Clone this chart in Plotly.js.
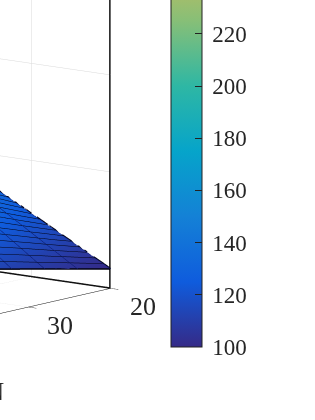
<!DOCTYPE html>
<html><head><meta charset="utf-8">
<script src="https://cdn.plot.ly/plotly-3.0.0.min.js"></script>
<style>html,body{margin:0;padding:0;width:315px;height:420px;overflow:hidden;background:#fff}
#c{position:absolute}</style></head><body><div id="c"></div>
<script>
const xVals=[20,21,22,23,24,25,26,27,28,29,30,31,32,33,34,35,36];
const yVals=[20,22,24,26,28,30,32,34,36];
const z0=[100,102.3,104.5,106.8,109,111.3,113.5,115.8,118,120.3,122.5,124.8,127,129.3,131.5,133.8,136];
const z1=[101.9,104.3,106.8,109.2,111.6,114,116.5,118.9,121.3,123.7,126.2,128.6,131,133.5,135.9,138.3,140.7];
const z2=[103.8,106.4,109,111.6,114.2,116.8,119.4,122,124.6,127.2,129.8,132.4,135,137.7,140.3,142.9,145.5];
const z3=[105.8,108.5,111.3,114.1,116.9,119.7,122.5,125.2,128,130.8,133.6,136.4,139.2,142,144.7,147.5,150.3];
const z4=[107.7,110.6,113.6,116.6,119.5,122.5,125.5,128.4,131.4,134.3,137.3,140.3,143.2,146.2,149.1,152.1,155];
const z5=[109.6,112.7,115.9,119,122.1,125.3,128.4,131.6,134.7,137.8,141,144.1,147.2,150.4,153.5,156.6,159.8];
const z6=[111.5,114.8,118.1,121.4,124.8,128.1,131.4,134.7,138,141.3,144.6,147.9,151.3,154.6,157.9,161.2,164.5];
const z7=[113.4,116.9,120.4,123.9,127.4,130.9,134.3,137.8,141.3,144.8,148.3,151.8,155.3,158.8,162.3,165.8,169.2];
const z8=[115.4,119,122.7,126.4,130.1,133.7,137.4,141.1,144.7,148.4,152.1,155.7,159.4,163.1,166.8,170.4,174.1];
const zRows=[z0,z1,z2,z3,z4,z5,z6,z7,z8];
const cbTicks=[100,120,140,160,180,200,220];
const yTickLabels=[20,30];
const parula=[[0,'#352a87'],[0.125,'#0f5cdd'],[0.25,'#1481d6'],[0.375,'#06a4ca'],[0.5,'#2eb7a4'],[0.625,'#87bf77'],[0.75,'#d1bb59'],[0.875,'#fec832'],[1,'#f9fb0e']];

const W=950,H=750,L=-687,T=-276;
const el=document.getElementById('c');
el.style.left=L+'px';el.style.top=T+'px';el.style.width=W+'px';el.style.height=H+'px';
const serif='"Liberation Serif","Times New Roman",serif';
const INK='#262626';
const axisBase={showbackground:false,gridcolor:'#d9d9d9',gridwidth:1,zeroline:false,showspikes:false,showticklabels:false,
  title:{text:''},linecolor:'#111',linewidth:1,tickcolor:'#111',tickwidth:2,ticklen:12,ticks:'outside'};
const surf={type:'surface',x:xVals,y:yVals,z:zRows,cmin:100,cmax:300,colorscale:parula,
  lighting:{ambient:1,diffuse:0,specular:0,roughness:1,fresnel:0},
  contours:{x:{show:true,start:20,end:36,size:1,color:'#000010',width:3},
            y:{show:true,start:20,end:36,size:4,color:'#0a1a70',width:1}},
  colorbar:{thickness:31,thicknessmode:'pixels',len:522,lenmode:'pixels',x:(171-L)/W,xanchor:'left',
    y:(T+H-347)/H,yanchor:'bottom',xpad:0,ypad:0,outlinecolor:'#222',outlinewidth:1,
    tickvals:cbTicks,ticktext:cbTicks.map(v=>'\u2009'+v),ticks:'inside',ticklen:7,tickcolor:'#222',tickwidth:1,
    tickfont:{family:serif,size:23,color:INK}},
  hoverinfo:'skip'};
const boxEdges={type:'scatter3d',mode:'lines',x:[59.9,20.05,20.05],y:[20.05,20.05,20.05],z:[90.2,90.2,300],
  line:{color:'#111',width:3},showlegend:false,hoverinfo:'skip'};
const edgeA={type:'scatter3d',mode:'lines',x:xVals,y:xVals.map(()=>yVals[0]),z:z0,
  line:{color:'#000010',width:4},showlegend:false,hoverinfo:'skip'};
const edgeB={type:'scatter3d',mode:'lines',x:yVals.map(()=>xVals[0]),y:yVals,z:zRows.map(r=>r[0]),
  line:{color:'#000010',width:3},showlegend:false,hoverinfo:'skip'};
Plotly.newPlot(el,[surf,boxEdges,edgeA,edgeB],{
  width:W,height:H,margin:{l:0,r:0,t:0,b:0},paper_bgcolor:'#fff',showlegend:false,
  scene:{domain:{x:[0,1],y:[0,1]},
    aspectmode:'manual',aspectratio:{x:1.08,y:1.404,z:1.105},
    camera:{projection:{type:'orthographic'},eye:{x:-1.157,y:1.444,z:0.343},up:{x:0,y:0,z:1},center:{x:0,y:0,z:0}},
    xaxis:Object.assign({},axisBase,{range:[20,60],tickvals:[30,40,50,60],ticks:''}),
    yaxis:Object.assign({},axisBase,{range:[20,60],tickvals:[20,30,40,50,60]}),
    zaxis:Object.assign({},axisBase,{range:[90,300],tickvals:[100,150,200,250,300],ticks:''}),
    annotations:yTickLabels.map(v=>({x:20,y:v,z:90,text:String(v),showarrow:false,xshift:32,yshift:-18,
      font:{family:serif,size:26,color:INK}}))},
  annotations:[{text:'N',xref:'paper',yref:'paper',x:(6-L)/W,y:(T+H-391)/H,xanchor:'right',yanchor:'middle',showarrow:false,font:{family:serif,size:25,color:INK}}]
},{displayModeBar:false});
</script></body></html>
